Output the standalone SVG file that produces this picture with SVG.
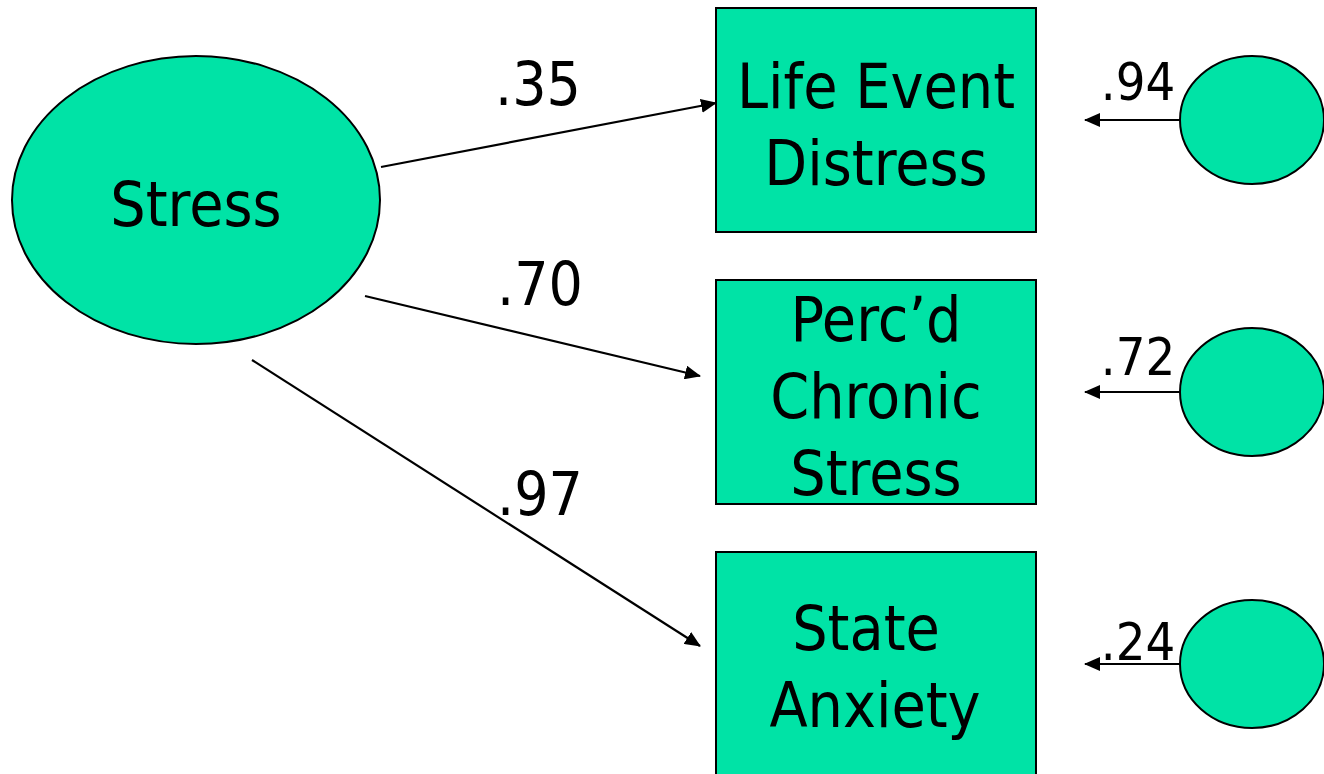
<svg xmlns="http://www.w3.org/2000/svg" width="1324" height="774" viewBox="0 0 1324 774">
<style>
.shape{fill:#00E3A6;stroke:#000;stroke-width:2}
.t{font-family:"DejaVu Sans Condensed","DejaVu Sans",sans-serif;fill:#000;text-anchor:middle}
.big{font-size:62px}
.lbl{font-size:60px}
.small{font-size:52px}
.conn{stroke:#000;stroke-width:2.2;fill:none;marker-end:url(#ah)}
</style>
<defs>
<marker id="ah" viewBox="0 0 16 14" refX="15" refY="7" markerWidth="16" markerHeight="14" markerUnits="userSpaceOnUse" orient="auto">
<path d="M0,0 L16,7 L0,14 z" fill="#000"/>
</marker>
</defs>
<g id="connectors">
<line class="conn" x1="381" y1="167" x2="716" y2="103"/>
<line class="conn" x1="365" y1="296" x2="700" y2="376"/>
<line class="conn" x1="252" y1="360" x2="700" y2="646"/>
<line class="conn" x1="1180" y1="120" x2="1085" y2="120"/>
<line class="conn" x1="1180" y1="392" x2="1085" y2="392"/>
<line class="conn" x1="1180" y1="664" x2="1085" y2="664"/>
<text class="t lbl" x="538" y="105">.35</text>
<text class="t lbl" x="540" y="305">.70</text>
<text class="t lbl" x="540" y="515">.97</text>
<text class="t small" x="1138" y="100">.94</text>
<text class="t small" x="1138" y="375">.72</text>
<text class="t small" x="1138" y="660">.24</text>
</g>
<g id="stress">
<ellipse class="shape" cx="196" cy="200" rx="184" ry="144"/>
<text class="t big" x="196" y="226">Stress</text>
</g>
<g id="life-event">
<rect class="shape" x="716" y="8" width="320" height="224"/>
<text class="t big" x="876" y="108">Life Event</text>
<text class="t big" x="876" y="185">Distress</text>
</g>
<g id="chronic">
<rect class="shape" x="716" y="280" width="320" height="224"/>
<text class="t big" x="876" y="341">Perc’d</text>
<text class="t big" x="876" y="418">Chronic</text>
<text class="t big" x="876" y="495">Stress</text>
</g>
<g id="anxiety">
<rect class="shape" x="716" y="552" width="320" height="240"/>
<text class="t big" x="866" y="650">State</text>
<text class="t big" x="875" y="727">Anxiety</text>
</g>
<g id="e1"><ellipse class="shape" cx="1252" cy="120" rx="72" ry="64"/></g>
<g id="e2"><ellipse class="shape" cx="1252" cy="392" rx="72" ry="64"/></g>
<g id="e3"><ellipse class="shape" cx="1252" cy="664" rx="72" ry="64"/></g>
</svg>
